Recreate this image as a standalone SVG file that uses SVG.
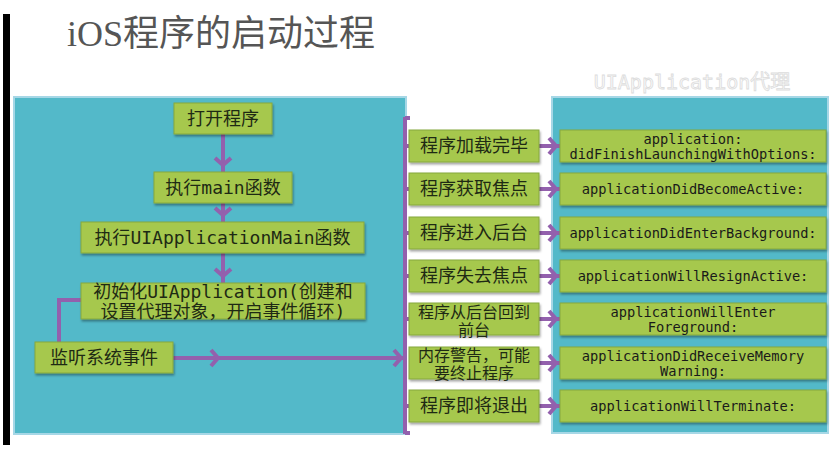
<svg xmlns="http://www.w3.org/2000/svg" width="832" height="460" viewBox="0 0 832 460">
<style>
.panel{fill:#53b9c9;stroke:#a6d7e6;stroke-width:2}
.box{fill:#a6c84d;stroke:#86a83f;stroke-width:1;filter:url(#sh)}
.cn{font-family:"Noto Sans CJK SC","Noto Sans",sans-serif;font-size:18px;fill:#1e2a14;text-anchor:middle}
.cn16{font-family:"Noto Sans CJK SC","Noto Sans",sans-serif;font-size:16px;fill:#1e2a14;text-anchor:middle}
.mono{font-family:"DejaVu Sans Mono","Liberation Mono",monospace}
.m{font-family:"DejaVu Sans Mono","Liberation Mono",monospace;font-size:13.7px;fill:#1a1a1a;text-anchor:middle}
.ln{fill:none;stroke:#9360ad;stroke-width:4}
.arr{fill:none;stroke:#9360ad;stroke-width:4;marker-mid:url(#chev)}
</style>
<defs>
<filter id="sh" x="-10%" y="-20%" width="120%" height="150%">
<feDropShadow dx="1" dy="2" stdDeviation="1.2" flood-color="#000" flood-opacity="0.35"/>
</filter>
<marker id="chev" markerUnits="userSpaceOnUse" markerWidth="20" markerHeight="20" viewBox="-12 -10 20 20" refX="0" refY="0" orient="auto" overflow="visible">
<path d="M-7,-8 L0,0 L-7,8" fill="none" stroke="#9360ad" stroke-width="4"/>
</marker>
</defs>
<rect x="0" y="0" width="832" height="460" fill="#ffffff"/>
<rect x="3" y="14" width="7" height="431" fill="#000"/>
<text x="67" y="46" font-family="'Liberation Serif','Noto Sans CJK SC',serif" font-size="36" fill="#555">iOS程序的启动过程</text>
<text x="692" y="89" font-family="'DejaVu Sans Mono','Noto Sans CJK SC',monospace" font-size="20" fill="#fbfbfb" stroke="#dcdcdc" stroke-width="0.8" text-anchor="middle">UIApplication代理</text>

<rect class="panel" x="14" y="97" width="392" height="337"/>
<rect class="panel" x="552" y="97" width="276" height="336"/>

<g id="connectors">
<path class="arr" d="M223,134 L223,165 L223,172"/>
<path class="arr" d="M223,203 L223,215 L223,222"/>
<path class="arr" d="M223,253 L223,276 L223,283"/>
<path class="ln" d="M59,342 L59,300 L81,300"/>
<path class="arr" d="M173,358 L218,358 L401,358 L404,358"/>
<path class="ln" d="M405,117 L405,434"/>
<path class="ln" stroke-width="3" d="M405,118 L410,118 M405,146 L409,146 M405,189 L409,189 M405,233 L409,233 M405,276 L409,276 M405,319 L409,319 M405,406 L409,406 M405,433 L410,433"/>
<path class="arr" d="M539,146 L556,146 L560,146"/>
<path class="arr" d="M539,189 L556,189 L560,189"/>
<path class="arr" d="M539,233 L556,233 L560,233"/>
<path class="arr" d="M539,276 L556,276 L560,276"/>
<path class="arr" d="M539,319 L556,319 L560,319"/>
<path class="arr" d="M539,363 L556,363 L560,363"/>
<path class="arr" d="M539,406 L556,406 L560,406"/>
</g>

<g id="open"><rect class="box" x="174" y="103" width="98" height="31"/><text class="cn" x="223" y="125">打开程序</text></g>
<g id="main"><rect class="box" x="154" y="172" width="138" height="31"/><text class="cn" x="223" y="194">执行<tspan class="mono">main</tspan>函数</text></g>
<g id="uiappmain"><rect class="box" x="81" y="222" width="283" height="31"/><text class="cn" x="222.5" y="244">执行<tspan class="mono">UIApplicationMain</tspan>函数</text></g>
<g id="init"><rect class="box" x="81" y="283" width="284" height="36"/><text class="cn" x="223" y="298">初始化<tspan class="mono">UIApplication(</tspan>创建和</text><text class="cn" x="223" y="318">设置代理对象，开启事件循环<tspan class="mono">)</tspan></text></g>
<g id="listen"><rect class="box" x="35" y="342" width="138" height="31"/><text class="cn" x="104" y="364">监听系统事件</text></g>

<g id="ev1"><rect class="box" x="409" y="130" width="130" height="32"/><text class="cn" x="474" y="152">程序加载完毕</text></g>
<g id="ev2"><rect class="box" x="409" y="173" width="130" height="32"/><text class="cn" x="474" y="195">程序获取焦点</text></g>
<g id="ev3"><rect class="box" x="409" y="217" width="130" height="32"/><text class="cn" x="474" y="239">程序进入后台</text></g>
<g id="ev4"><rect class="box" x="409" y="260" width="130" height="32"/><text class="cn" x="474" y="282">程序失去焦点</text></g>
<g id="ev5"><rect class="box" x="409" y="303" width="130" height="32"/><text class="cn16" x="474" y="318">程序从后台回到</text><text class="cn16" x="474" y="336">前台</text></g>
<g id="ev6"><rect class="box" x="409" y="347" width="130" height="32"/><text class="cn16" x="474" y="361">内存警告，可能</text><text class="cn16" x="474" y="379">要终止程序</text></g>
<g id="ev7"><rect class="box" x="409" y="390" width="130" height="32"/><text class="cn" x="474" y="412">程序即将退出</text></g>

<g id="d1"><rect class="box" x="560" y="130" width="266" height="32"/><text class="m" x="693" y="144">application:</text><text class="m" x="693" y="159">didFinishLaunchingWithOptions:</text></g>
<g id="d2"><rect class="box" x="560" y="173" width="266" height="32"/><text class="m" x="693" y="194">applicationDidBecomeActive:</text></g>
<g id="d3"><rect class="box" x="560" y="217" width="266" height="32"/><text class="m" x="693" y="238">applicationDidEnterBackground:</text></g>
<g id="d4"><rect class="box" x="560" y="260" width="266" height="32"/><text class="m" x="693" y="281">applicationWillResignActive:</text></g>
<g id="d5"><rect class="box" x="560" y="303" width="266" height="32"/><text class="m" x="693" y="317">applicationWillEnter</text><text class="m" x="693" y="332">Foreground:</text></g>
<g id="d6"><rect class="box" x="560" y="347" width="266" height="32"/><text class="m" x="693" y="361">applicationDidReceiveMemory</text><text class="m" x="693" y="376">Warning:</text></g>
<g id="d7"><rect class="box" x="560" y="390" width="266" height="32"/><text class="m" x="693" y="411">applicationWillTerminate:</text></g>
</svg>
